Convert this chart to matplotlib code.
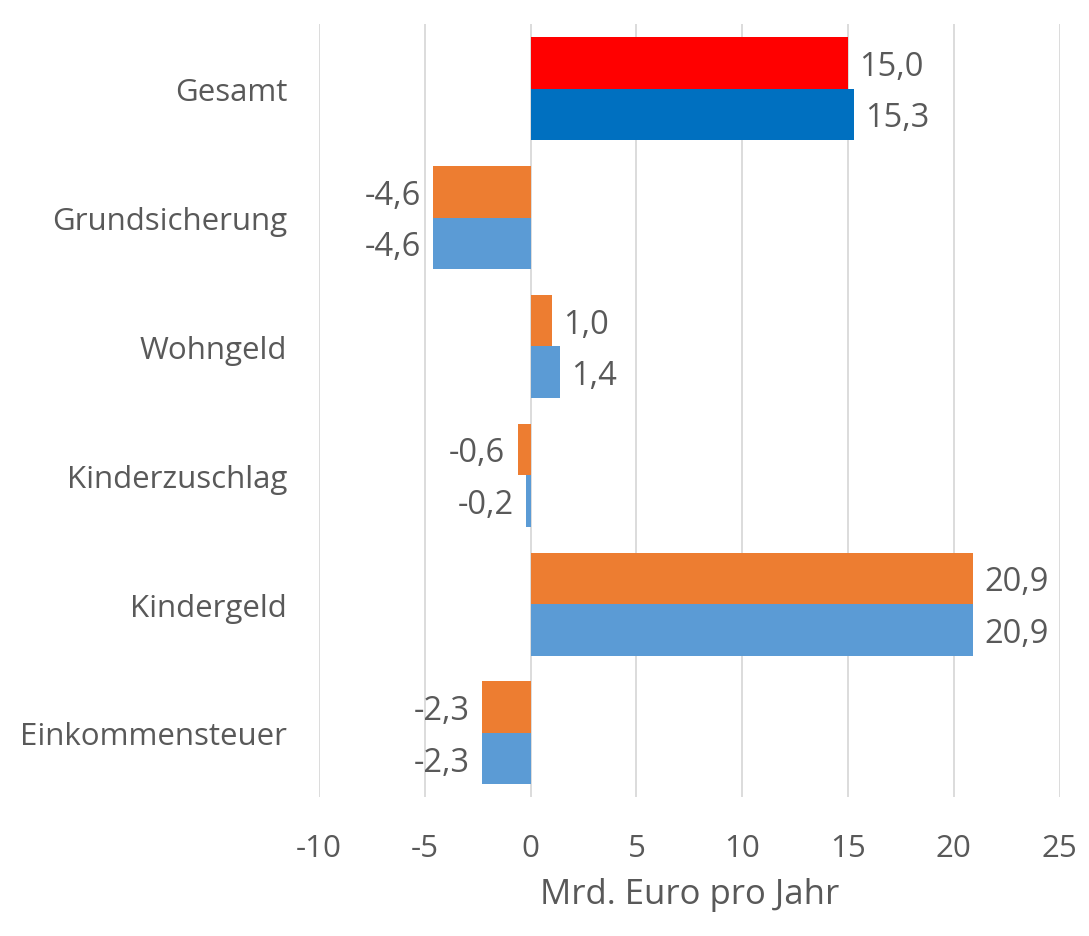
import matplotlib
matplotlib.use("Agg")
import matplotlib.pyplot as plt
import numpy as np

categories = ["Gesamt", "Grundsicherung", "Wohngeld", "Kinderzuschlag", "Kindergeld", "Einkommensteuer"]
series_a = [15.0, -4.6, 1.0, -0.6, 20.9, -2.3]   # upper bar of each pair
series_b = [15.3, -4.6, 1.4, -0.2, 20.9, -2.3]   # lower bar of each pair
colors_a = ["#FF0000", "#ED7D31", "#ED7D31", "#ED7D31", "#ED7D31", "#ED7D31"]
colors_b = ["#0070C0", "#5B9BD5", "#5B9BD5", "#5B9BD5", "#5B9BD5", "#5B9BD5"]
xticks = [-10, -5, 0, 5, 10, 15, 20, 25]
xlabel = "Mrd. Euro pro Jahr"

plt.rcParams['font.family'] = ['Open Sans', 'DejaVu Sans']
txt = "#595959"

fig = plt.figure(figsize=(10.89, 9.37), dpi=100)
fig.patch.set_facecolor("#FFFFFF")
ax = fig.add_axes([0.293, 0.148, 0.680, 0.825])

y = np.arange(len(categories))
h = 0.4
ba = ax.barh(y - h / 2, series_a, height=h, color=colors_a, zorder=3)
bb = ax.barh(y + h / 2, series_b, height=h, color=colors_b, zorder=3)

def fmt(v):
    return f"{v:.1f}".replace(".", ",")

for bars, vals in ((ba, series_a), (bb, series_b)):
    for rect, v in zip(bars, vals):
        yc = rect.get_y() + rect.get_height() / 2
        if v >= 0:
            ax.annotate(fmt(v), (v, yc), xytext=(8, -2.5), textcoords="offset points",
                        ha="left", va="center", fontsize=23.5, color=txt)
        else:
            ax.annotate(fmt(v), (v, yc), xytext=(-9, -2.5), textcoords="offset points",
                        ha="right", va="center", fontsize=23.5, color=txt)

ax.set_xlim(-10, 25)
ax.set_ylim(len(categories) - 0.5, -0.5)
ax.set_xticks(xticks)
ax.set_xticklabels([str(t) for t in xticks])
ax.set_yticks(y)
ax.set_yticklabels(categories)
ax.tick_params(axis="both", length=0, labelsize=22.5, colors=txt)
ax.tick_params(axis="x", pad=26)
ax.tick_params(axis="y", pad=23)
ax.xaxis.grid(True, color="#D9D9D9", linewidth=1.3, zorder=0)
ax.set_axisbelow(True)
for s in ax.spines.values():
    s.set_visible(False)
ax.set_xlabel(xlabel, fontsize=25, color=txt, labelpad=10)

fig.savefig("out.png", dpi=100, facecolor=fig.get_facecolor())
